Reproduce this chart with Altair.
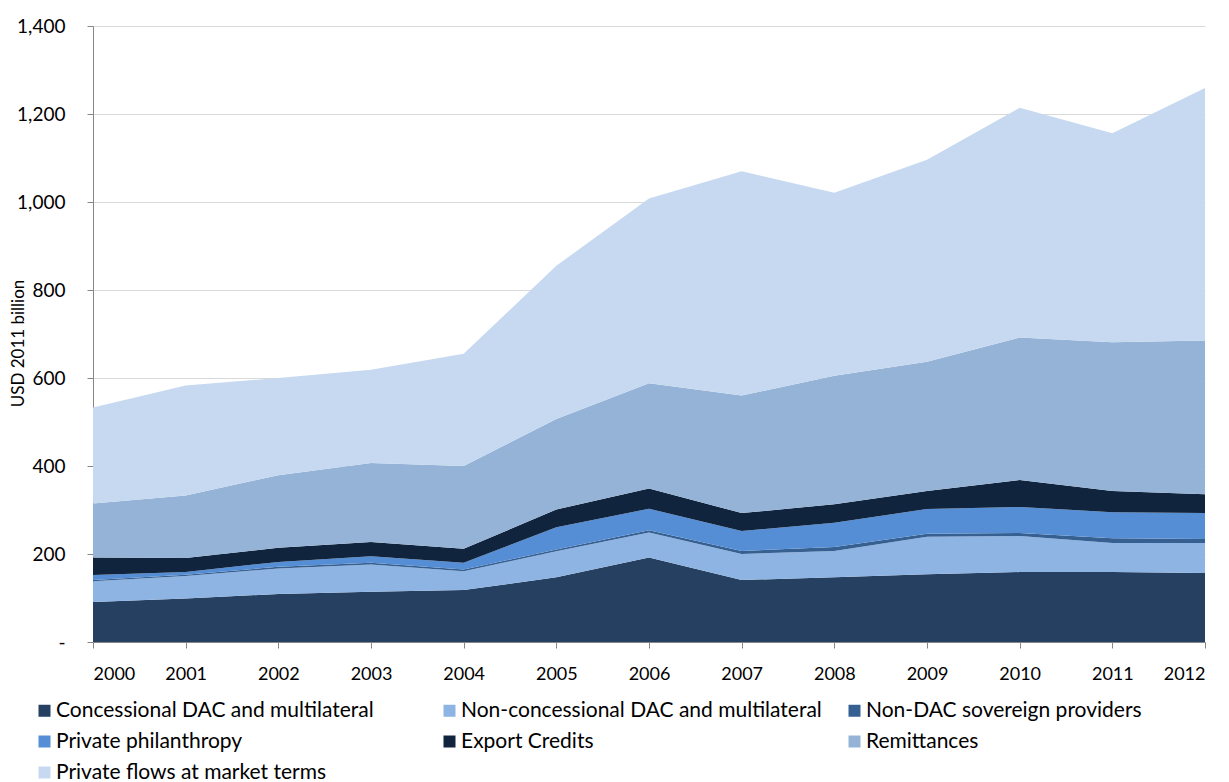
import altair as alt
import pandas as pd

years = list(range(2000, 2013))
series = [
    "Concessional DAC and multilateral",
    "Non-concessional DAC and multilateral",
    "Non-DAC sovereign providers",
    "Private philanthropy",
    "Export Credits",
    "Remittances",
    "Private flows at market terms",
]
colors = ["#254061", "#8EB4E3", "#376092", "#558ED5", "#10243E", "#95B3D7", "#C6D9F1"]

concessional = [91, 99, 109, 114, 118, 147, 192, 141, 147, 154, 159, 159, 157]
non_concessional = [47, 51, 58, 62, 43, 59, 57, 59, 60, 85, 82, 66, 68]
non_dac = [3, 3, 4, 4, 4, 4, 5, 7, 9, 7, 7, 11, 9]
philanthropy = [11, 6, 11, 15, 15, 51, 49, 45, 55, 56, 59, 59, 59]
export_credits = [40, 32, 32, 32, 32, 40, 46, 41, 42, 41, 61, 48, 43]
remittances = [123, 142, 165, 180, 188, 206, 239, 267, 292, 294, 324, 338, 349]
private_flows = [218, 250, 221, 212, 255, 348, 420, 510, 416, 459, 522, 475, 574]

values = [concessional, non_concessional, non_dac, philanthropy,
          export_credits, remittances, private_flows]

rows = []
for i, (name, vals) in enumerate(zip(series, values)):
    for y, v in zip(years, vals):
        rows.append({"year": y, "series": name, "value": v, "ord": i})
df = pd.DataFrame(rows)

FONT = "Lato"

chart = alt.Chart(df).mark_area(opacity=1).encode(
    x=alt.X("year:Q",
            scale=alt.Scale(domain=[2000, 2012], nice=False, zero=False),
            axis=alt.Axis(title=None, values=years, format="d", grid=False,
                          tickSize=6, tickColor="#868686", domainColor="#868686",
                          labelFontSize=18, labelColor="#000000", labelFont=FONT,
                          labelPadding=17, labelOverlap=False)),
    y=alt.Y("value:Q", stack="zero",
            scale=alt.Scale(domain=[0, 1400], nice=False),
            axis=alt.Axis(title="USD 2011 billion", values=list(range(0, 1401, 200)),
                          labelExpr="datum.value == 0 ? '-' : format(datum.value, ',')",
                          grid=True, gridColor="#D9D9D9", tickSize=6,
                          tickColor="#868686", domainColor="#868686",
                          labelFontSize=19, labelColor="#000000", labelFont=FONT,
                          labelPadding=22,
                          titleFontSize=17, titleFontWeight="normal", titleFont=FONT,
                          titleColor="#000000", titleX=-66, titleY=317)),
    color=alt.Color("series:N",
                    scale=alt.Scale(domain=series, range=colors),
                    legend=alt.Legend(title=None, orient="none", legendX=-59, legendY=674,
                                      direction="horizontal",
                                      columns=3, gridAlign="all", columnPadding=22,
                                      rowPadding=9, symbolType="square", symbolSize=144,
                                      symbolStrokeWidth=0, symbolOpacity=1,
                                      labelOffset=1,
                                      labelFontSize=21, labelFont=FONT,
                                      labelColor="#000000", labelLimit=600)),
    order=alt.Order("ord:Q", sort="ascending"),
).properties(
    width=1112, height=616,
    padding={"left": 1, "top": 9, "right": 5, "bottom": 5},
).configure_view(stroke=None)

chart.save("out.html", embed_options={"renderer": "svg", "actions": False})
